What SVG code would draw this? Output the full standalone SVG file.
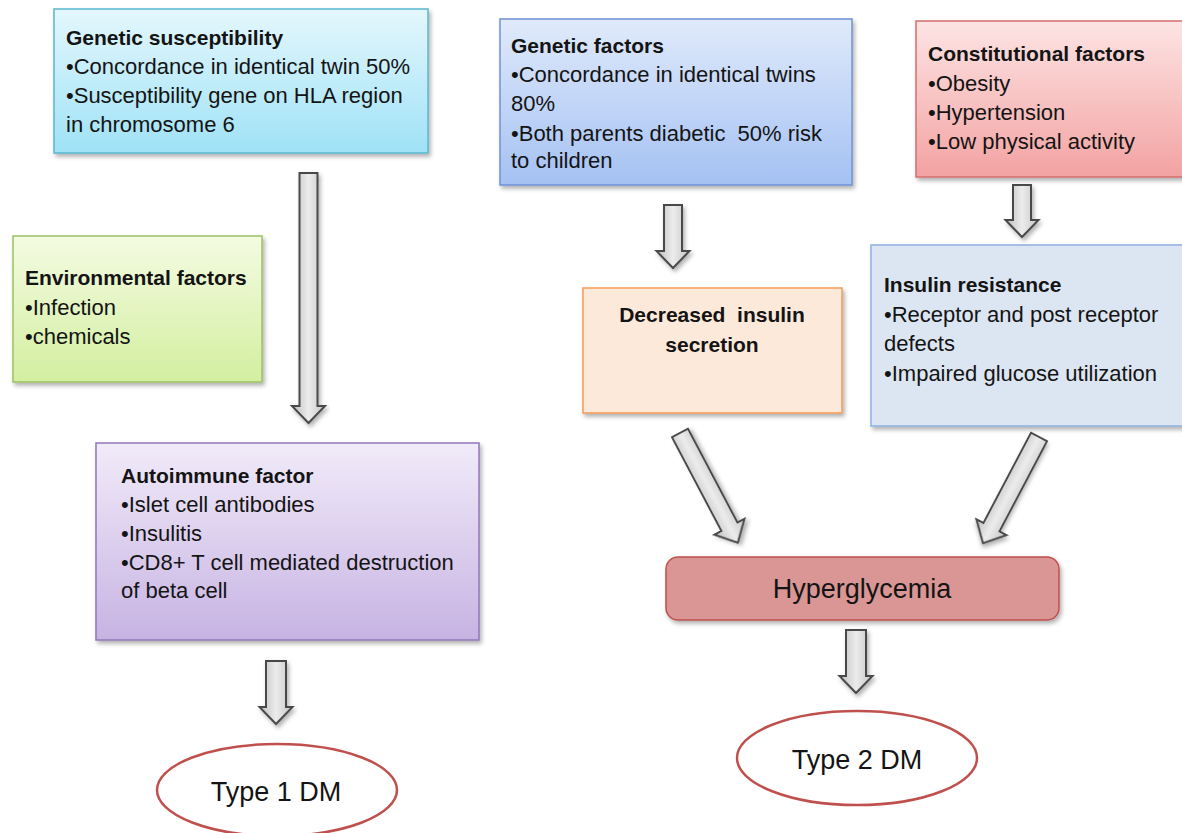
<svg xmlns="http://www.w3.org/2000/svg" width="1182" height="833" viewBox="0 0 1182 833">
<defs>
<linearGradient id="gCyan" x1="0" y1="0" x2="0" y2="1"><stop offset="0" stop-color="#e4f7fd"/><stop offset="1" stop-color="#9fe2f6"/></linearGradient>
<linearGradient id="gBlue" x1="0" y1="0" x2="0" y2="1"><stop offset="0" stop-color="#e0eafb"/><stop offset="1" stop-color="#a4c1f3"/></linearGradient>
<linearGradient id="gPink" x1="0" y1="0" x2="0" y2="1"><stop offset="0" stop-color="#fde4e4"/><stop offset="1" stop-color="#f3a2a2"/></linearGradient>
<linearGradient id="gGreen" x1="0" y1="0" x2="0" y2="1"><stop offset="0" stop-color="#f4fbe2"/><stop offset="1" stop-color="#d3efa0"/></linearGradient>
<linearGradient id="gPurple" x1="0" y1="0" x2="0" y2="1"><stop offset="0" stop-color="#f1ebf9"/><stop offset="1" stop-color="#c7b3e3"/></linearGradient>
<linearGradient id="gArrow" x1="0" y1="0" x2="1" y2="0"><stop offset="0" stop-color="#bdbdbd"/><stop offset="0.5" stop-color="#ececec"/><stop offset="1" stop-color="#c4c4c4"/></linearGradient>
<filter id="sh" x="-10%" y="-10%" width="125%" height="130%"><feDropShadow dx="2" dy="3" stdDeviation="2" flood-color="#000" flood-opacity="0.3"/></filter>
</defs>
<style>
.t{font-family:"Liberation Sans",Arial,sans-serif;font-size:22px;fill:#141414;white-space:pre}
.b{font-family:"Liberation Sans",Arial,sans-serif;font-size:21px;font-weight:bold;fill:#141414;white-space:pre}
.big{font-family:"Liberation Sans",Arial,sans-serif;font-size:27px;fill:#141414}
.box{stroke-width:1.5;filter:url(#sh)}
.arr{fill:url(#gArrow);stroke:#4a4a4a;stroke-width:2;filter:url(#sh)}
.ell{fill:#fff;stroke:#c0504d;stroke-width:2.5}
</style>
<rect width="1182" height="833" fill="#fff"/>

<g id="connectors">
<path class="arr" transform="translate(308.5,173)" d="M-9 0H9V233H16.5L0 250L-16.5 233H-9Z"/>
<path class="arr" transform="translate(276,661)" d="M-10 0H10V46H16.5L0 63L-16.5 46H-10Z"/>
<path class="arr" transform="translate(673,205)" d="M-9 0H9V46H16.5L0 63L-16.5 46H-9Z"/>
<path class="arr" transform="translate(1022,185)" d="M-9 0H9V35H16.5L0 52L-16.5 35H-9Z"/>
<path class="arr" transform="translate(680,433) rotate(-27.8)" d="M-9 0H9V106H17L0 124L-17 106H-9Z"/>
<path class="arr" transform="translate(1039,437) rotate(27.8)" d="M-9 0H9V102H17L0 120L-17 102H-9Z"/>
<path class="arr" transform="translate(856,630)" d="M-10 0H10V46H16.5L0 63L-16.5 46H-10Z"/>
</g>

<g id="genetic-susceptibility">
<rect class="box" x="54" y="9" width="374" height="144" fill="url(#gCyan)" stroke="#5ab6cf"/>
<text class="b" x="66" y="45">Genetic susceptibility</text>
<text class="t" x="66" y="74">•Concordance in identical twin 50%</text>
<text class="t" x="66" y="103">•Susceptibility gene on HLA region</text>
<text class="t" x="66" y="132">in chromosome 6</text>
</g>

<g id="genetic-factors">
<rect class="box" x="500" y="19" width="352" height="166" fill="url(#gBlue)" stroke="#6f93d3"/>
<text class="b" x="511" y="53">Genetic factors</text>
<text class="t" x="511" y="82">•Concordance in identical twins</text>
<text class="t" x="511" y="111">80%</text>
<text class="t" x="511" y="141" xml:space="preserve">•Both parents diabetic  50% risk</text>
<text class="t" x="511" y="168">to children</text>
</g>

<g id="constitutional-factors">
<rect class="box" x="916" y="21" width="280" height="156" fill="url(#gPink)" stroke="#d26f6f"/>
<text class="b" x="928" y="61">Constitutional factors</text>
<text class="t" x="928" y="91">•Obesity</text>
<text class="t" x="928" y="120">•Hypertension</text>
<text class="t" x="928" y="149">•Low physical activity</text>
</g>

<g id="environmental-factors">
<rect class="box" x="13" y="236" width="249" height="146" fill="url(#gGreen)" stroke="#9cc262"/>
<text class="b" x="25" y="285">Environmental factors</text>
<text class="t" x="25" y="315">•Infection</text>
<text class="t" x="25" y="344">•chemicals</text>
</g>

<g id="decreased-insulin-secretion">
<rect class="box" x="583" y="288" width="259" height="125" fill="#fde9da" stroke="#f49a55"/>
<text class="b" x="712" y="322" text-anchor="middle" xml:space="preserve">Decreased  insulin</text>
<text class="b" x="712" y="352" text-anchor="middle">secretion</text>
</g>

<g id="insulin-resistance">
<rect class="box" x="871" y="245" width="325" height="181" fill="#dce6f2" stroke="#8db0de"/>
<text class="b" x="884" y="292">Insulin resistance</text>
<text class="t" x="884" y="322">•Receptor and post receptor</text>
<text class="t" x="884" y="351">defects</text>
<text class="t" x="884" y="381">•Impaired glucose utilization</text>
</g>

<g id="autoimmune-factor">
<rect class="box" x="96" y="443" width="383" height="197" fill="url(#gPurple)" stroke="#9277b8"/>
<text class="b" x="121" y="483">Autoimmune factor</text>
<text class="t" x="121" y="512">•Islet cell antibodies</text>
<text class="t" x="121" y="541">•Insulitis</text>
<text class="t" x="121" y="570">•CD8+ T cell mediated destruction</text>
<text class="t" x="121" y="598">of beta cell</text>
</g>

<g id="hyperglycemia">
<rect class="box" x="666" y="557" width="393" height="63" rx="12" fill="#d99694" stroke="#c0504d"/>
<text class="big" x="862" y="598" text-anchor="middle">Hyperglycemia</text>
</g>

<g id="type1">
<ellipse class="ell" cx="277" cy="790" rx="120" ry="46"/>
<text class="big" x="276" y="801" text-anchor="middle">Type 1 DM</text>
</g>

<g id="type2">
<ellipse class="ell" cx="857" cy="758" rx="120" ry="47"/>
<text class="big" x="857" y="769" text-anchor="middle">Type 2 DM</text>
</g>
</svg>
